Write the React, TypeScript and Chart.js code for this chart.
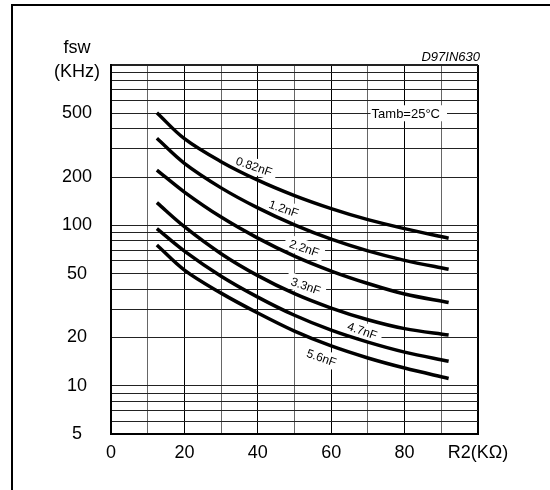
import React, { useEffect, useRef } from 'react';
import { Chart, registerables } from 'chart.js';

Chart.register(...registerables);

// R2 (kΩ) sample points along every curve
const r2Values = [12.5, 20, 30, 40, 50, 60, 70, 80, 92];

// fsw (kHz) for each timing capacitor
const fsw082nF = [504, 347, 249.5, 191.3, 153.2, 127.1, 108.5, 95.4, 83.1];
const fsw12nF = [349, 243.5, 171.3, 128.5, 100.7, 82, 69.3, 60.5, 53.2];
const fsw22nF = [221.2, 161.3, 112.6, 83.3, 64.3, 51.9, 43.4, 37.3, 33.0];
const fsw33nF = [138.5, 98.1, 66.6, 48.6, 37.5, 30.5, 25.8, 22.7, 20.7];
const fsw47nF = [95.4, 69.1, 48.2, 35.7, 27.5, 22.2, 18.7, 16.2, 14.2];
const fsw56nF = [75.4, 52.6, 37.8, 28.4, 21.9, 17.7, 14.9, 12.9, 11.1];

const seriesNames = ['0.82nF', '1.2nF', '2.2nF', '3.3nF', '4.7nF', '5.6nF'];
const seriesValues = [fsw082nF, fsw12nF, fsw22nF, fsw33nF, fsw47nF, fsw56nF];

// axis ticks
const yGridValues = [5, 6, 7, 8, 9, 10, 20, 30, 40, 50, 60, 70, 80, 90, 100, 200, 300, 400, 500, 600, 700, 800, 900, 1000];
const yTickLabels = [5, 10, 20, 50, 100, 200, 500];
const xTickLabels = [0, 20, 40, 60, 80];
const xAxisTitle = 'R2(KΩ)';
const yAxisTitle = ['fsw', '(KHz)'];
const chartCode = 'D97IN630';
const conditionText = 'Tamb=25°C';

// curve label anchors (data coordinates)
const labelR2 = [39.0, 47.1, 52.7, 53.1, 68.5, 57.4];
const labelFsw = [234, 127.6, 72.4, 42, 22.1, 15.0];

const FONT = '"Liberation Sans", Arial, Helvetica, sans-serif';

const decorPlugin = {
  id: 'decor',
  beforeDatasetsDraw(chart: any) {
    const { ctx, scales } = chart;
    const x = scales.x;
    const y = scales.y;
    ctx.save();
    // curve labels
    ctx.font = `12px ${FONT}`;
    ctx.textAlign = 'center';
    ctx.textBaseline = 'middle';
    seriesNames.forEach((t, i) => {
      const px = x.getPixelForValue(labelR2[i]);
      const py = y.getPixelForValue(labelFsw[i]);
      ctx.save();
      ctx.translate(px, py);
      ctx.rotate((19 * Math.PI) / 180);
      const w = ctx.measureText(t).width;
      ctx.fillStyle = '#fff';
      ctx.fillRect(-w / 2 - 5, -8, w + 10, 16);
      ctx.fillStyle = '#000';
      ctx.fillText(t, 0, 1);
      ctx.restore();
    });
    // condition text
    ctx.font = `13px ${FONT}`;
    ctx.textAlign = 'left';
    const tx = x.getPixelForValue(71);
    const ty = y.getPixelForValue(500);
    const tw = ctx.measureText(conditionText).width;
    ctx.fillStyle = '#fff';
    ctx.fillRect(tx - 1, ty - 8, tw + 8, 16);
    ctx.fillStyle = '#000';
    ctx.fillText(conditionText, tx, ty + 1);
    ctx.restore();
  },
  afterDraw(chart: any) {
    const { ctx } = chart;
    ctx.save();
    // outer frame
    ctx.strokeStyle = '#000';
    ctx.lineWidth = 2;
    ctx.beginPath();
    ctx.moveTo(550, 5);
    ctx.lineTo(12, 5);
    ctx.lineTo(12, 490);
    ctx.stroke();
    // y axis title
    ctx.fillStyle = '#000';
    ctx.font = `18px ${FONT}`;
    ctx.textAlign = 'center';
    ctx.textBaseline = 'middle';
    ctx.fillText(yAxisTitle[0], 77, 48);
    ctx.fillText(yAxisTitle[1], 77, 72);
    // chart code
    ctx.font = `italic 13px ${FONT}`;
    ctx.textAlign = 'right';
    ctx.textBaseline = 'alphabetic';
    ctx.fillText(chartCode, 480, 61);
    ctx.restore();
  },
};

export default function App() {
  const canvasRef = useRef<HTMLCanvasElement | null>(null);

  useEffect(() => {
    const canvas = canvasRef.current;
    if (!canvas) return;
    const chart = new Chart(canvas, {
      type: 'line',
      data: {
        datasets: seriesNames.map((name, i) => ({
          label: name,
          data: r2Values.map((r, j) => ({ x: r, y: seriesValues[i][j] })),
          borderColor: '#000',
          borderWidth: 3.5,
          pointRadius: 0,
          fill: false,
          tension: 0.35,
          borderCapStyle: 'butt' as const,
        })),
      },
      options: {
        responsive: false,
        animation: false,
        layout: { padding: { top: 65, right: 72, left: 0, bottom: 0 } },
        plugins: {
          legend: { display: false },
          tooltip: { enabled: false },
        },
        scales: {
          x: {
            type: 'linear',
            min: 0,
            max: 100,
            afterFit: (scale: any) => {
              scale.height = 56;
            },
            ticks: {
              stepSize: 10,
              autoSkip: false,
              maxRotation: 0,
              padding: 8,
              color: '#000',
              font: { family: FONT, size: 18 },
              callback: (v: any) => {
                if (v === 100) return xAxisTitle;
                return xTickLabels.includes(v) ? String(v) : '';
              },
            },
            grid: {
              drawTicks: false,
              color: (c: any) => (c.tick && c.tick.value % 20 === 10 ? '#666' : '#000'),
              lineWidth: (c: any) => (c.tick && c.tick.value === 100 ? 2 : 1),
            },
            border: { color: '#000', width: 2 },
          },
          y: {
            type: 'logarithmic',
            min: 5,
            max: 1000,
            afterFit: (scale: any) => {
              scale.width = 111;
            },
            afterBuildTicks: (scale: any) => {
              scale.ticks = yGridValues.map((v) => ({ value: v }));
            },
            ticks: {
              autoSkip: false,
              padding: 19,
              crossAlign: 'center',
              color: '#000',
              font: { family: FONT, size: 18 },
              callback: (v: any) => (yTickLabels.includes(v) ? String(v) : ''),
            },
            grid: {
              drawTicks: false,
              color: '#222',
              lineWidth: (c: any) => (c.tick && c.tick.value === 1000 ? 2 : 1),
            },
            border: { color: '#000', width: 2 },
          },
        },
      },
      plugins: [decorPlugin],
    } as any);
    return () => chart.destroy();
  }, []);

  return (
    <div style={{ position: 'absolute', left: 0, top: 0, width: 550, height: 490, background: '#fff' }}>
      <canvas ref={canvasRef} width={550} height={490} style={{ display: 'block' }} />
    </div>
  );
}
